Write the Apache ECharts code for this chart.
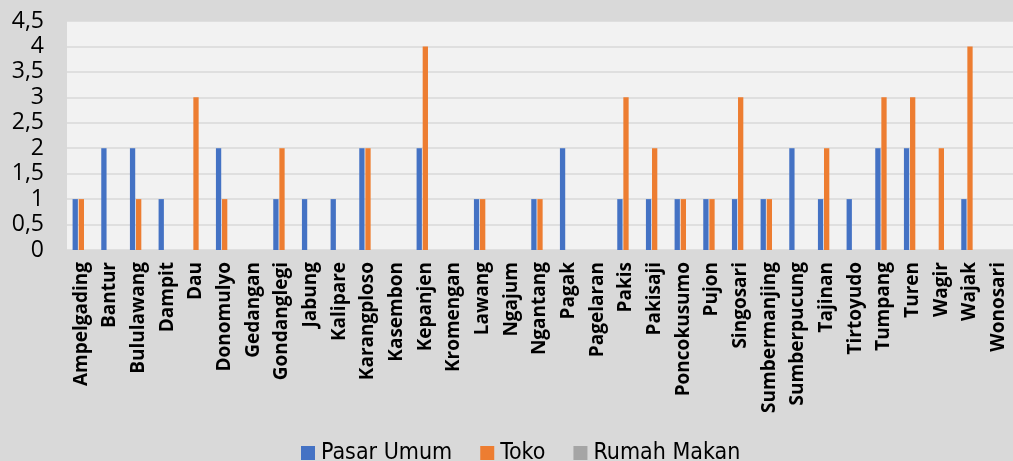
<!DOCTYPE html>
<html>
<head>
<meta charset="utf-8">
<script src="https://cdn.jsdelivr.net/npm/echarts@6/dist/echarts.min.js"></script>
<style>
html,body{margin:0;padding:0;background:#d9d9d9;}
#chart{width:1013px;height:461px;}
</style>
</head>
<body>
<div id="chart"></div>
<script>
const categories = ["Ampelgading","Bantur","Bululawang","Dampit","Dau","Donomulyo","Gedangan","Gondanglegi","Jabung","Kalipare","Karangploso","Kasembon","Kepanjen","Kromengan","Lawang","Ngajum","Ngantang","Pagak","Pagelaran","Pakis","Pakisaji","Poncokusumo","Pujon","Singosari","Sumbermanjing","Sumberpucung","Tajinan","Tirtoyudo","Tumpang","Turen","Wagir","Wajak","Wonosari"];
const pasarUmum = [1,2,2,1,0,2,0,1,1,1,2,0,2,0,1,0,1,2,0,1,1,1,1,1,1,2,1,1,2,2,0,1,0];
const toko      = [1,0,1,0,3,1,0,2,0,0,2,0,4,0,1,0,1,0,0,3,2,1,1,3,1,0,2,0,3,3,2,4,0];
const rumahMakan= [0,0,0,0,0,0,0,0,0,0,0,0,0,0,0,0,0,0,0,0,0,0,0,0,0,0,0,0,0,0,0,0,0];
const seriesNames = ["Pasar Umum","Toko","Rumah Makan"];
const yMin = 0, yMax = 4.5, yStep = 0.5;

const chart = echarts.init(document.getElementById('chart'), null, {renderer:'canvas'});
const barStyle = {barWidth: 5.3, barGap: '15%'};
chart.setOption({
  backgroundColor: '#d9d9d9',
  animation: false,
  color: ['#4472c4','#ed7d31','#a5a5a5'],
  grid: {left: 67, top: 21, right: -7, bottom: 211, show: true, backgroundColor: '#f2f2f2', borderWidth: 0, containLabel: false},
  legend: {
    data: seriesNames,
    left: 296, top: 430, padding: 5,
    itemWidth: 14, itemHeight: 14, itemGap: 28,
    icon: 'rect',
    textStyle: {fontFamily: "'DejaVu Sans Condensed', 'DejaVu Sans', sans-serif", fontSize: 23, lineHeight: 14, color: '#000', padding:[0,0,22,1]}
  },
  xAxis: {
    type: 'category',
    data: categories,
    axisLine: {show: true, lineStyle: {color: '#d9d9d9', width: 1}},
    axisTick: {show: false},
    axisLabel: {rotate: 90, interval: 0, margin: 12, fontFamily: 'Open Sans', fontWeight: 'bold', fontSize: 19, color: '#000', padding:[5,0,0,0]}
  },
  yAxis: {
    type: 'value',
    min: yMin, max: yMax, interval: yStep,
    axisLine: {show: false},
    axisTick: {show: false},
    splitLine: {lineStyle: {color: '#d9d9d9', width: 1.5}},
    axisLabel: {margin: 23, fontFamily: 'Open Sans', fontSize: 23, color: '#000',
      formatter: v => String(v).replace('.', ',')}
  },
  series: [
    Object.assign({name: seriesNames[0], type: 'bar', data: pasarUmum}, barStyle),
    Object.assign({name: seriesNames[1], type: 'bar', data: toko}, barStyle),
    Object.assign({name: seriesNames[2], type: 'bar', data: rumahMakan}, barStyle)
  ]
});
</script>
</body>
</html>
